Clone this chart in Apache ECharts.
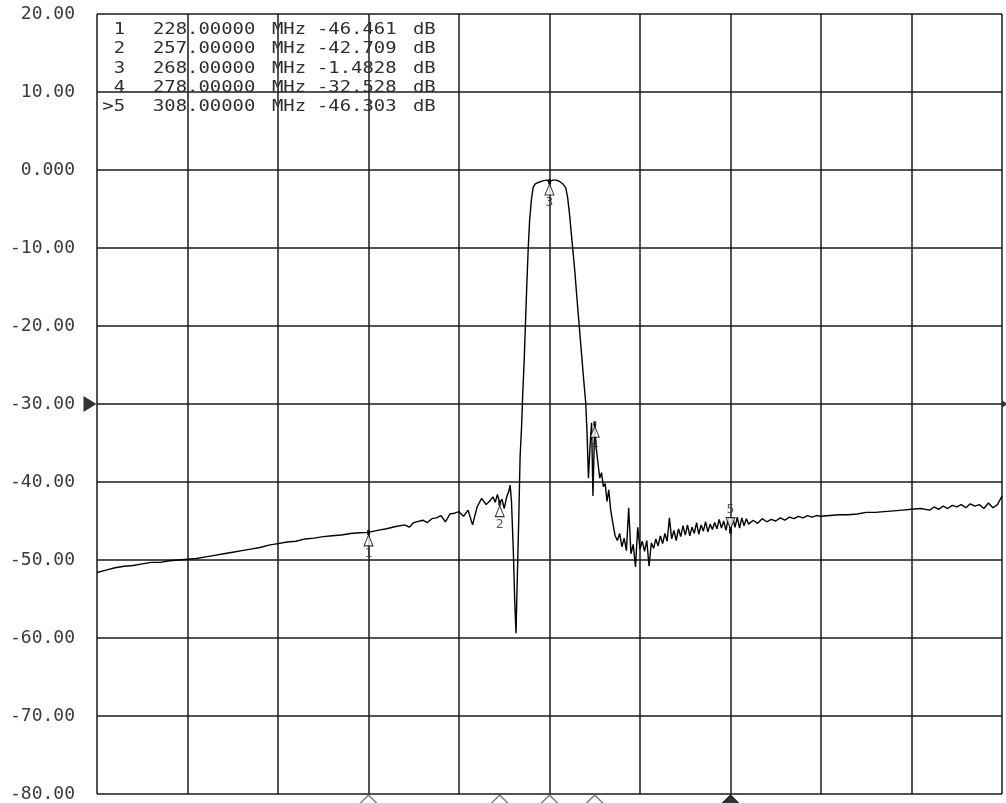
<!DOCTYPE html>
<html>
<head>
<meta charset="utf-8">
<script src="https://cdn.jsdelivr.net/npm/echarts@6/dist/echarts.min.js"></script>
<style>
  html, body { margin: 0; padding: 0; background: #ffffff; }
  #chart { width: 1006px; height: 803px; }
</style>
</head>
<body>
<div id="chart"></div>
<script>
// Transmission trace of a band-pass filter, start 168 MHz, stop 368 MHz (log mag, 10 dB/div)

// --- lower skirt (168 .. 259.6 MHz)
const lowFreq = [
  168, 170, 172, 174, 176, 178, 180, 182, 184, 186,
  188, 190, 192, 194, 196, 198, 200, 202, 204, 206,
  208, 210, 212, 214, 216, 218, 220, 222, 224, 226,
  228, 230, 232, 234, 236, 237, 238, 240, 241, 242,
  243, 244, 245, 246, 247, 248, 249, 250, 251, 252,
  253, 254, 255, 255.5, 256, 256.5, 257, 257.5, 258, 258.5,
  259, 259.3, 259.6
];
const lowDb = [
  -51.6, -51.3, -51.0, -50.8, -50.7, -50.5, -50.3, -50.3, -50.1, -50.0,
  -49.9, -49.8, -49.6, -49.4, -49.2, -49.0, -48.8, -48.6, -48.4, -48.1,
  -47.9, -47.7, -47.6, -47.3, -47.2, -47.0, -46.9, -46.8, -46.6, -46.5,
  -46.461, -46.2, -46.0, -45.7, -45.5, -45.8, -45.2, -44.9, -45.2, -44.7,
  -44.6, -44.3, -45.1, -44.1, -44.0, -43.8, -44.4, -43.6, -45.5, -43.2,
  -42.1, -42.9, -42.3, -41.9, -42.6, -41.6, -42.709, -42.2, -43.4, -42.0,
  -41.2, -40.4, -42.5
];

// --- notch and passband (260 .. 276.3 MHz)
const bandFreq = [
  260, 260.3, 260.6, 260.9, 261.2, 261.5, 261.8, 262.1, 262.4, 262.7,
  263, 263.3, 263.6, 264, 264.4, 264.8, 265.5, 266.5, 267.3, 268,
  268.7, 269.5, 270.3, 271, 271.6, 272, 272.4, 272.8, 273.2, 273.6,
  274, 274.5, 275, 275.5, 276, 276.3
];
const bandDb = [
  -48.7, -55.0, -59.4, -52.0, -44.9, -36.8, -33.3, -28.5, -24.5, -19.5,
  -14.5, -10.0, -6.5, -3.8, -2.2, -1.8, -1.6, -1.4, -1.3, -1.4828,
  -1.3, -1.3, -1.5, -1.8, -2.3, -3.5, -5.5, -8.0, -10.5, -13.0,
  -16.0, -19.5, -23.0, -26.5, -29.8, -33.7
];

// --- upper skirt (276.6 .. 368 MHz)
const highFreq = [
  276.6, 277, 277.3, 277.6, 278, 278.3, 278.7, 279.1, 279.5, 279.9,
  280.3, 280.7, 281.1, 281.5, 282, 282.5, 283, 283.5, 284, 284.5,
  285, 285.5, 286, 286.5, 287, 287.5, 288, 288.5, 289, 289.5,
  290, 290.5, 291, 291.5, 292, 292.5, 293, 293.5, 294, 294.5,
  295, 295.5, 296, 296.5, 297, 297.5, 298, 298.5, 299, 299.5,
  300, 300.5, 301, 301.5, 302, 302.5, 303, 303.5, 304, 304.5,
  305, 305.5, 306, 306.5, 307, 307.5, 308, 308.5, 309, 309.5,
  310, 310.5, 311, 311.5, 312, 313, 314, 315, 316, 317,
  318, 319, 320, 321, 322, 323, 324, 325, 326, 327,
  328, 330, 332, 334, 336, 338, 340, 342, 344, 346,
  348, 350, 352, 353, 354, 355, 356, 357, 358, 359,
  360, 361, 362, 363, 364, 365, 366, 367, 368
];
const highDb = [
  -39.5, -35.0, -32.4, -41.8, -32.528, -35.5, -37.5, -39.5, -38.8, -40.6,
  -40.2, -42.5, -41.0, -43.5, -45.3, -46.9, -47.5, -46.6, -48.3, -47.2,
  -48.8, -43.3, -49.2, -48.0, -50.9, -45.8, -48.6, -47.6, -48.9, -47.5,
  -50.8, -47.8, -48.5, -47.3, -48.2, -46.9, -47.9, -46.6, -47.6, -44.6,
  -47.3, -46.2, -47.5, -46.0, -47.0, -45.6, -46.8, -45.5, -46.9, -45.8,
  -46.6, -45.2, -46.7, -45.5, -46.3, -45.1, -46.4, -45.4, -46.1, -45.2,
  -46.0, -44.8, -45.9, -45.0, -46.2, -44.7, -46.303, -44.6, -45.8, -44.5,
  -45.9, -44.6, -45.6, -44.7, -45.4, -44.9, -45.3, -44.7, -45.1, -44.8,
  -45.0, -44.6, -44.9, -44.5, -44.7, -44.4, -44.6, -44.3, -44.5, -44.3,
  -44.4, -44.3, -44.2, -44.2, -44.1, -43.9, -43.9, -43.8, -43.7, -43.6,
  -43.5, -43.4, -43.6, -43.2, -43.5, -43.1, -43.4, -43.0, -43.2, -42.9,
  -43.3, -42.8, -43.1, -42.9, -43.4, -42.7, -43.3, -42.9, -41.8
];

// --- markers
const markerFreq = [228, 257, 268, 278, 308];
const markerDb = [-46.461, -42.709, -1.4828, -32.528, -46.303];
const activeMarker = 4;          // marker 5 is the active one
const referenceLevel = -30;      // reference position arrow

// --- axis
const xStart = 168, xStop = 368;
const yTickLabels = ['20.00', '10.00', '0.000', '-10.00', '-20.00', '-30.00',
                     '-40.00', '-50.00', '-60.00', '-70.00', '-80.00'];

const MONO = '"DejaVu Sans Mono", "Liberation Mono", monospace';
const INK = '#2e2e2e';

const traceFreq = lowFreq.concat(bandFreq, highFreq);
const traceDb = lowDb.concat(bandDb, highDb);
const traceData = traceFreq.map((f, i) => [f, traceDb[i]]);

const gridStyle = { color: '#1a1a1a', width: 1.5 };

// marker glyphs on the trace: a triangle beside the point with its number
const markerGlyphs = markerFreq.map((f, i) => {
  const above = i === activeMarker;
  return {
    value: [f, markerDb[i]],
    symbol: 'triangle',
    symbolSize: [9, 11],
    symbolRotate: above ? 180 : 0,
    symbolOffset: [0, above ? -8 : 8],
    label: {
      show: true,
      formatter: String(i + 1),
      position: above ? 'top' : 'bottom',
      distance: 1,
      fontFamily: MONO,
      fontSize: 13,
      color: INK
    }
  };
});

// marker pointers along the bottom edge of the graticule
const edgePointers = markerFreq.map((f, i) => ({
  value: [f, -80],
  itemStyle: i === activeMarker
    ? { color: '#000', borderColor: '#000', borderWidth: 1 }
    : { color: '#fff', borderColor: '#555', borderWidth: 1.2 }
}));

// marker readout table in the upper-left corner
const tableRows = [];
const rowTop = 30, rowStep = 19.3;
const cell = (text, x, y, align) => ({
  type: 'text',
  x: x, y: y,
  scaleX: 1.18,
  silent: true,
  z: 20,
  style: {
    text: text,
    font: '16px ' + MONO,
    fill: INK,
    textAlign: align || 'left',
    textVerticalAlign: 'middle'
  }
});
markerFreq.forEach((f, i) => {
  const y = rowTop + i * rowStep;
  tableRows.push(cell((i === activeMarker ? '>' : '') + (i + 1), 125, y, 'right'));
  tableRows.push(cell(f.toFixed(5), 153, y));
  tableRows.push(cell('MHz', 272, y));
  tableRows.push(cell(markerDb[i].toPrecision(5), 317, y));
  tableRows.push(cell('dB', 413, y));
});

const chart = echarts.init(document.getElementById('chart'), null, { renderer: 'canvas' });
chart.setOption({
  animation: false,
  backgroundColor: '#ffffff',
  grid: { left: 97, top: 14, width: 905, height: 780, containLabel: false },
  xAxis: [
    { type: 'value', min: xStart, max: xStop, show: false },
    {
      type: 'value', min: 0, max: 10, interval: 1,
      axisLine: { show: false }, axisTick: { show: false }, axisLabel: { show: false },
      splitLine: { show: true, lineStyle: gridStyle }
    }
  ],
  yAxis: {
    type: 'value', min: -80, max: 20, interval: 10,
    axisLine: { show: false }, axisTick: { show: false },
    splitLine: { show: true, lineStyle: gridStyle },
    axisLabel: {
      margin: 22,
      formatter: v => yTickLabels[Math.round((20 - v) / 10)],
      fontFamily: MONO, fontSize: 18, color: '#3a3a3a'
    }
  },
  series: [
    {
      name: 'S21',
      type: 'line',
      xAxisIndex: 0,
      data: traceData,
      showSymbol: false,
      symbol: 'none',
      lineStyle: { color: '#000', width: 1.4 },
      z: 5,
      silent: true
    },
    {
      name: 'markers',
      type: 'scatter',
      xAxisIndex: 0,
      data: markerGlyphs,
      itemStyle: { color: '#fff', borderColor: '#000', borderWidth: 1 },
      z: 6,
      silent: true
    },
    {
      name: 'marker points',
      type: 'scatter',
      xAxisIndex: 0,
      data: markerFreq.map((f, i) => [f, markerDb[i]]),
      symbol: 'rect',
      symbolSize: [3, 5],
      itemStyle: { color: '#000' },
      z: 7,
      silent: true
    },
    {
      name: 'edge pointers',
      type: 'scatter',
      xAxisIndex: 0,
      data: edgePointers,
      symbol: 'triangle',
      symbolSize: [30, 15],
      symbolOffset: [0, 8.5],
      clip: false,
      z: 8,
      silent: true
    },
    {
      name: 'reference',
      type: 'scatter',
      xAxisIndex: 0,
      data: [
        { value: [xStart, referenceLevel], symbolSize: [16, 13], symbolOffset: [-7, 0] },
        { value: [xStop, referenceLevel], symbolSize: [7, 5], symbolOffset: [3, 0] }
      ],
      symbol: 'triangle',
      symbolRotate: -90,
      itemStyle: { color: '#000' },
      clip: false,
      z: 8,
      silent: true
    }
  ],
  graphic: tableRows
});
</script>
</body>
</html>
